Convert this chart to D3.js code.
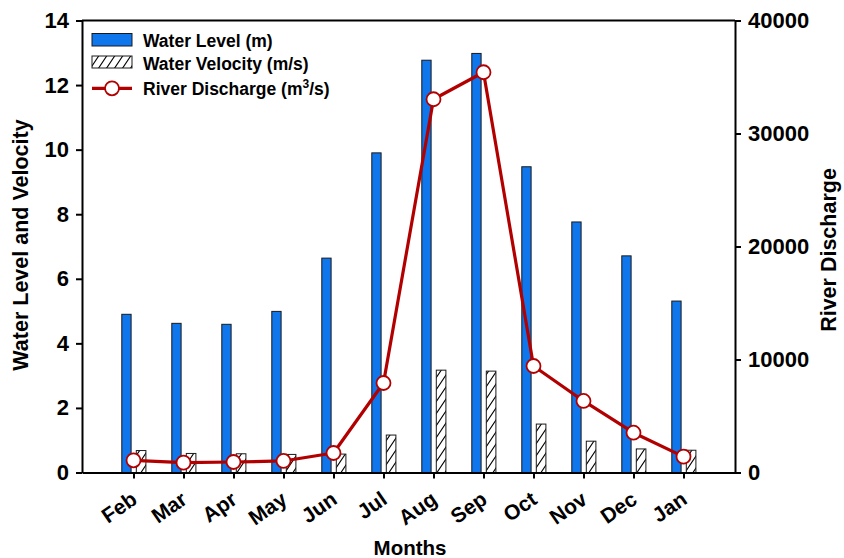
<!DOCTYPE html>
<html>
<head>
<meta charset="utf-8">
<script src="https://cdn.jsdelivr.net/npm/d3@7"></script>
<style>
  body { margin: 0; background: #fff; }
  text { font-family: "Liberation Sans", Arial, sans-serif; font-weight: bold; fill: #000; }
</style>
</head>
<body>
<svg id="chart" width="844" height="558"></svg>
<script>
// Monthly hydrology series
const months = ["Feb", "Mar", "Apr", "May", "Jun", "Jul", "Aug", "Sep", "Oct", "Nov", "Dec", "Jan"];
const waterLevel = [4.90, 4.62, 4.59, 4.99, 6.64, 9.90, 12.77, 12.98, 9.47, 7.76, 6.71, 5.31];
const waterVelocity = [0.68, 0.59, 0.58, 0.56, 0.57, 1.16, 3.17, 3.14, 1.50, 0.97, 0.73, 0.69];
const riverDischarge = [1080, 870, 930, 1020, 1725, 7920, 33030, 35420, 9425, 6330, 3520, 1400];
const leftTicks = [0, 2, 4, 6, 8, 10, 12, 14];
const rightTicks = [0, 10000, 20000, 30000, 40000];

const svg = d3.select("#chart");
const plotL = 82, plotR = 735, plotT = 20.5, plotB = 472.5;
const blue = "#0f76ec", red = "#b20000";

const x = d3.scalePoint().domain(months).range([plotL, plotR]).padding(1.03);
const yL = d3.scaleLinear().domain([0, 14]).range([plotB, plotT]);
const yR = d3.scaleLinear().domain([0, 40000]).range([plotB, plotT]);

// diagonal hatch for velocity bars
const defs = svg.append("defs");
const pat = defs.append("pattern").attr("id", "hatch")
  .attr("patternUnits", "userSpaceOnUse").attr("width", 8).attr("height", 12);
pat.append("rect").attr("width", 8).attr("height", 12).attr("fill", "#fff");
pat.append("path").attr("d", "M0,12 L8,0 M-2,3 L2,-3 M6,15 L10,9")
  .attr("stroke", "#000").attr("stroke-width", 1.1);

const rows = months.map((m, i) => ({ m, lvl: waterLevel[i], vel: waterVelocity[i], q: riverDischarge[i] }));

// water level bars
svg.append("g").selectAll("rect").data(rows).join("rect")
  .attr("x", d => x(d.m) - 11.7).attr("width", 9.3)
  .attr("y", d => yL(d.lvl)).attr("height", d => yL(0) - yL(d.lvl))
  .attr("fill", blue).attr("stroke", "#1a1a1a").attr("stroke-width", 1);

// water velocity bars
svg.append("g").selectAll("rect").data(rows).join("rect")
  .attr("x", d => x(d.m) + 2.8).attr("width", 9.6)
  .attr("y", d => yL(d.vel)).attr("height", d => yL(0) - yL(d.vel))
  .attr("fill", "url(#hatch)").attr("stroke", "#1a1a1a").attr("stroke-width", 1);

// axes
const styleAxis = g => {
  g.selectAll(".domain").attr("stroke", "#000").attr("stroke-width", 2);
  g.selectAll(".tick line").attr("stroke", "#000").attr("stroke-width", 2);
  g.selectAll("text").style("font-size", "22px").style("font-family", "'Liberation Sans', Arial, sans-serif").style("font-weight", "bold");
};

svg.append("g").attr("transform", `translate(${plotL},0)`)
  .call(d3.axisLeft(yL).tickValues(leftTicks).tickSize(6).tickSizeOuter(0).tickPadding(7))
  .call(styleAxis);

svg.append("g").attr("transform", `translate(${plotR},0)`)
  .call(d3.axisRight(yR).tickValues(rightTicks).tickSize(6).tickSizeOuter(0).tickPadding(7).tickFormat(d3.format("d")))
  .call(styleAxis);

const xAxis = svg.append("g").attr("transform", `translate(0,${plotB})`)
  .call(d3.axisBottom(x).tickSize(6).tickSizeOuter(0))
  .call(styleAxis);
xAxis.selectAll(".tick text").remove();

// top frame line
svg.append("line").attr("x1", plotL).attr("x2", plotR).attr("y1", plotT).attr("y2", plotT)
  .attr("stroke", "#000").attr("stroke-width", 2);

// rotated month labels
svg.append("g").selectAll("text").data(months).join("text")
  .attr("transform", d => `translate(${x(d) + 5},${plotB + 30}) rotate(-35)`)
  .attr("text-anchor", "end").style("font-size", "21px").text(d => d);

// discharge line and markers
const line = d3.line().x(d => x(d.m)).y(d => yR(d.q));
svg.append("path").datum(rows).attr("d", line)
  .attr("fill", "none").attr("stroke", red).attr("stroke-width", 3.2).attr("stroke-linejoin", "round");
svg.append("g").selectAll("circle").data(rows).join("circle")
  .attr("cx", d => x(d.m)).attr("cy", d => yR(d.q)).attr("r", 7)
  .attr("fill", "#fff").attr("stroke", red).attr("stroke-width", 1.8);

// axis titles
svg.append("text").attr("transform", "translate(28,245) rotate(-90)")
  .attr("text-anchor", "middle").style("font-size", "21.5px").text("Water Level and Velocity");
svg.append("text").attr("transform", "translate(836,250) rotate(-90)")
  .attr("text-anchor", "middle").style("font-size", "21.5px").text("River Discharge");
svg.append("text").attr("x", 410).attr("y", 555)
  .attr("text-anchor", "middle").style("font-size", "20.5px").text("Months");

// legend
const lg = svg.append("g");
lg.append("rect").attr("x", 92).attr("y", 33.5).attr("width", 40).attr("height", 12.5)
  .attr("fill", blue).attr("stroke", "#1a1a1a").attr("stroke-width", 1);
lg.append("rect").attr("x", 92).attr("y", 56).attr("width", 40).attr("height", 12)
  .attr("fill", "url(#hatch)").attr("stroke", "#1a1a1a").attr("stroke-width", 1);
lg.append("line").attr("x1", 92).attr("x2", 132).attr("y1", 88.3).attr("y2", 88.3)
  .attr("stroke", red).attr("stroke-width", 3.2);
lg.append("circle").attr("cx", 112).attr("cy", 88.3).attr("r", 7)
  .attr("fill", "#fff").attr("stroke", red).attr("stroke-width", 1.8);
lg.append("text").attr("x", 143).attr("y", 46.5).style("font-size", "17.5px").text("Water Level (m)");
lg.append("text").attr("x", 143).attr("y", 70).style("font-size", "17.5px").text("Water Velocity (m/s)");
const t3 = lg.append("text").attr("x", 143).attr("y", 94.5).style("font-size", "17.5px");
t3.append("tspan").text("River Discharge (m");
t3.append("tspan").attr("dy", -7).style("font-size", "12px").text("3");
t3.append("tspan").attr("dy", 7).text("/s)");
</script>
</body>
</html>
